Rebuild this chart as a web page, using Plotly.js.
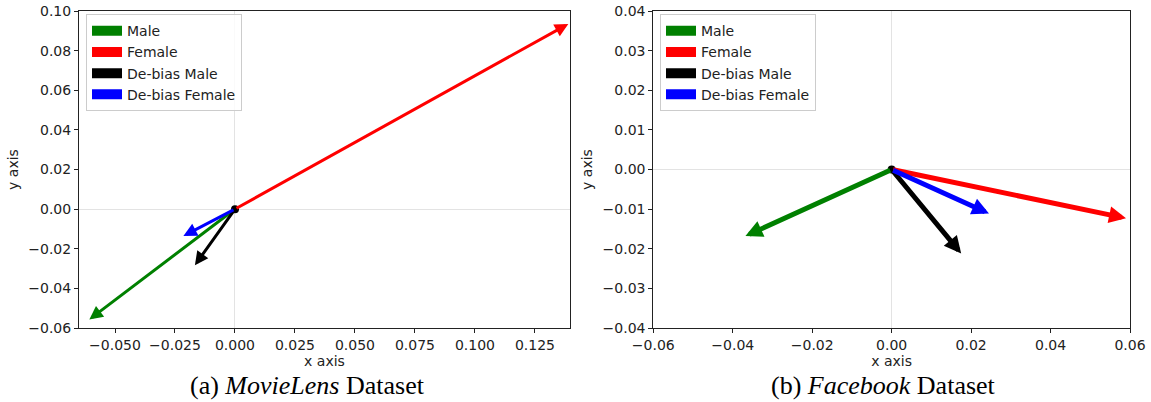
<!DOCTYPE html>
<html>
<head>
<meta charset="utf-8">
<script src="https://cdn.plot.ly/plotly-3.0.1.min.js"></script>
<style>html,body{margin:0;padding:0;background:#fff;}#chart{width:1151px;height:402px;}</style>
</head>
<body>
<div id="chart"></div>
<script>
// ---- data ----
const seriesNames = ['Male', 'Female', 'De-bias Male', 'De-bias Female'];
// vector tips (start at origin)
const movielensX = [-0.0607, 0.1389, -0.0167, -0.0215];
const movielensY = [-0.0557, 0.0935, -0.0283, -0.0136];
const facebookX = [-0.0368, 0.0590, 0.0175, 0.0245];
const facebookY = [-0.0168, -0.0123, -0.0212, -0.0111];
const originX = [0];
const originY = [0];
const captions = ['(a) <i>MovieLens</i> Dataset', '(b) <i>Facebook</i> Dataset'];

// ---- styles ----
const colors = ['green', 'red', 'black', 'blue'];
const FS = 14;
const tickFont = {family: 'DejaVu Sans', size: FS, color: '#222'};

const traces = [];
seriesNames.forEach((name, i) => {
  traces.push({x: [null], y: [null], type: 'scatter', mode: 'lines', name: name,
    line: {color: colors[i], width: 10}, xaxis: 'x', yaxis: 'y', legend: 'legend', hoverinfo: 'skip'});
  traces.push({x: [null], y: [null], type: 'scatter', mode: 'lines', name: name,
    line: {color: colors[i], width: 10}, xaxis: 'x2', yaxis: 'y2', legend: 'legend2', hoverinfo: 'skip'});
});
traces.push({x: originX, y: originY, type: 'scatter', mode: 'markers', showlegend: false,
  marker: {color: 'black', size: 8}, xaxis: 'x', yaxis: 'y'});
traces.push({x: originX, y: originY, type: 'scatter', mode: 'markers', showlegend: false,
  marker: {color: 'black', size: 8}, xaxis: 'x2', yaxis: 'y2'});

const annotations = [];
function addArrows(xs, ys, xr, yr, w, size) {
  xs.forEach((xv, i) => {
    annotations.push({x: xv, y: ys[i], ax: originX[0], ay: originY[0],
      xref: xr, yref: yr, axref: xr, ayref: yr, text: '', showarrow: true,
      arrowhead: 2, arrowsize: size, arrowwidth: w, arrowcolor: colors[i],
      standoff: 0, startstandoff: 0});
  });
}
addArrows(movielensX, movielensY, 'x', 'y', 3, 0.9);
addArrows(facebookX, facebookY, 'x2', 'y2', 5, 0.68);

const capFont = {family: 'Liberation Serif', size: 26, color: '#000'};
annotations.push({text: captions[0], xref: 'paper', yref: 'paper', x: 0.2672, y: -0.18,
  xanchor: 'center', yanchor: 'middle', showarrow: false, font: capFont});
annotations.push({text: captions[1], xref: 'paper', yref: 'paper', x: 0.768, y: -0.18,
  xanchor: 'center', yanchor: 'middle', showarrow: false, font: capFont});

function axisBase(extra) {
  return Object.assign({
    showline: true, mirror: true, linecolor: '#222', linewidth: 1,
    ticks: 'outside', ticklen: 4, tickcolor: '#222', tickwidth: 1,
    showgrid: false, zeroline: true, zerolinecolor: '#e3e3e3', zerolinewidth: 1,
    tickfont: tickFont, automargin: false
  }, extra);
}
const titleFont = {family: 'DejaVu Sans', size: FS, color: '#222'};
const legendBase = {xanchor: 'left', yanchor: 'top',
  bgcolor: 'rgba(255,255,255,0.8)', bordercolor: '#cccccc', borderwidth: 1,
  font: {family: 'DejaVu Sans', size: FS, color: '#222'}, itemwidth: 30, tracegroupgap: 0};

const layout = {
  width: 1151, height: 402,
  margin: {l: 0, r: 0, t: 11, b: 74},
  paper_bgcolor: '#fff', plot_bgcolor: '#fff',
  font: {family: 'DejaVu Sans', size: FS, color: '#222'},
  xaxis: axisBase({domain: [79/1151, 570/1151], range: [-0.065, 0.1396], anchor: 'y',
    tickvals: [-0.05, -0.025, 0, 0.025, 0.05, 0.075, 0.1, 0.125], tickformat: '.3f',
    title: {text: 'x axis', font: titleFont, standoff: 4}}),
  yaxis: axisBase({domain: [0, 1], range: [-0.06, 0.10], anchor: 'x',
    tickvals: [-0.06, -0.04, -0.02, 0, 0.02, 0.04, 0.06, 0.08, 0.10], tickformat: '.2f',
    title: {text: 'y axis', font: titleFont, standoff: 6}}),
  xaxis2: axisBase({domain: [653.3/1151, 1130/1151], range: [-0.06, 0.06], anchor: 'y2',
    tickvals: [-0.06, -0.04, -0.02, 0, 0.02, 0.04, 0.06], tickformat: '.2f',
    title: {text: 'x axis', font: titleFont, standoff: 4}}),
  yaxis2: axisBase({domain: [0, 1], range: [-0.04, 0.04], anchor: 'x2',
    tickvals: [-0.04, -0.03, -0.02, -0.01, 0, 0.01, 0.02, 0.03, 0.04], tickformat: '.2f',
    title: {text: 'y axis', font: titleFont, standoff: 6}}),
  legend: Object.assign({x: 86/1151, y: 0.99}, legendBase),
  legend2: Object.assign({x: 660/1151, y: 0.99}, legendBase),
  annotations: annotations,
  showlegend: true
};

Plotly.newPlot('chart', traces, layout, {staticPlot: true, displayModeBar: false});
</script>
</body>
</html>
